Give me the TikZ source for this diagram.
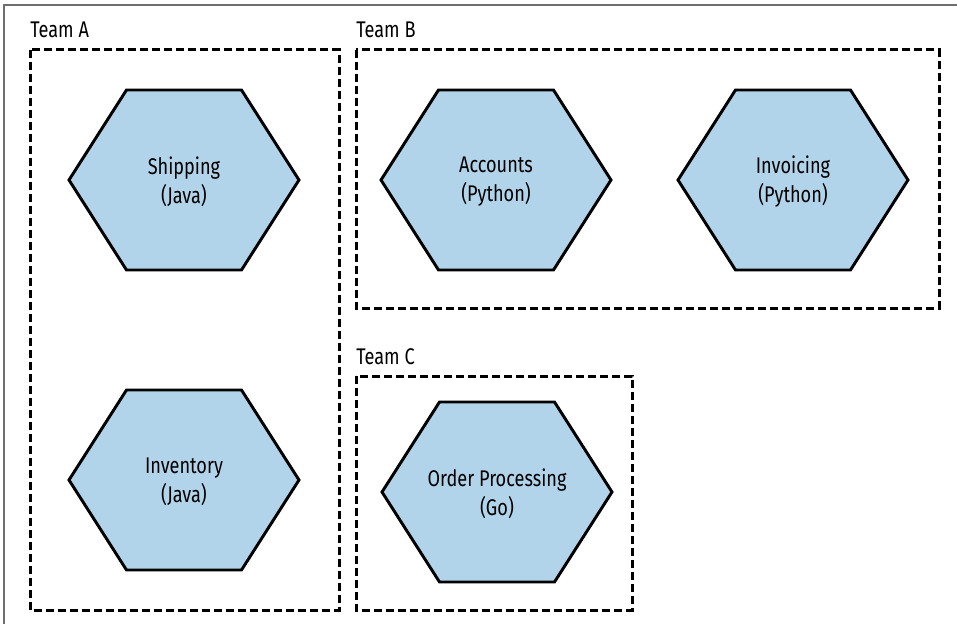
\documentclass[tikz,border=0pt]{standalone}
\usepackage{fontspec}
\setmainfont[FakeStretch=0.8]{Fira Sans}
\definecolor{hexfill}{RGB}{178,212,234}
\definecolor{framegray}{RGB}{110,110,110}
\tikzset{
  hexshape/.style={draw=black, fill=hexfill, line width=2.2pt, line join=miter},
  hexlabel/.style={align=center, font=\fontsize{17}{21.8}\selectfont, inner sep=0pt},
  teambox/.style={draw=black, line width=2.25pt, dash pattern=on 5.8pt off 3.2pt},
  teamlabel/.style={anchor=base west, font=\fontsize{17}{19}\selectfont, inner sep=0pt},
}
\newcommand{\hexnode}[4]{%
  \coordinate (#1c) at (#2,#3);
  \draw[hexshape] (#1c) +(-115,0) -- +(-57.5,-90) -- +(57.5,-90) -- +(115,0) -- +(57.5,90) -- +(-57.5,90) -- cycle;
  \node[hexlabel] (#1) at ([yshift=-1.5pt]#1c) {#4};
}
\begin{document}
\begin{tikzpicture}[x=0.75pt,y=-0.75pt]
\useasboundingbox (0,0) rectangle (957,624);
\coordinate (frameTL) at (4,5);
\coordinate (frameTR) at (957,5);
\coordinate (frameBL) at (4,624);
\draw[framegray, line width=1.1pt] (frameBL) -- (frameTL) -- (frameTR);
% team boxes
\draw[teambox] (30,50) rectangle (339,610);
\draw[teambox] (356,50) rectangle (939,308);
\draw[teambox] (356,376) rectangle (632,610);
\node[teamlabel] (teamA) at (30,38) {Team A};
\node[teamlabel] (teamB) at (356,38) {Team B};
\node[teamlabel] (teamC) at (356,364) {Team C};
% services
\hexnode{ship}{184}{180}{Shipping\\(Java)}
\hexnode{inv}{184}{480}{Inventory\\(Java)}
\hexnode{acc}{496}{180}{Accounts\\(Python)}
\hexnode{invo}{793}{180}{Invoicing\\(Python)}
\hexnode{order}{497}{492}{Order Processing\\(Go)}
\end{tikzpicture}
\end{document}
